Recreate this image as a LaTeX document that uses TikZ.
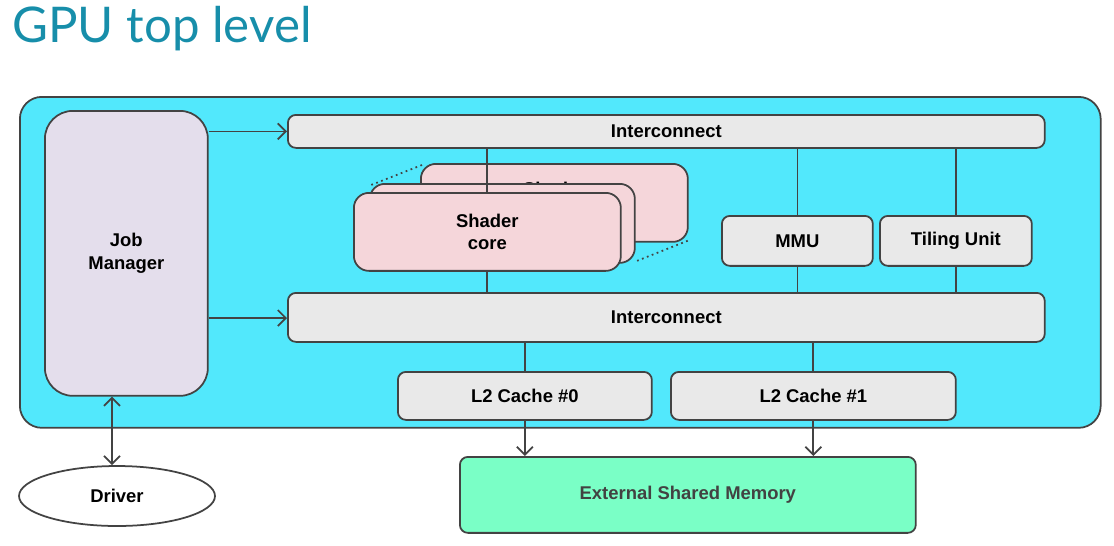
\documentclass[tikz,border=0pt]{standalone}
\usepackage{fontspec}
\setmainfont{Liberation Sans}
\newfontfamily\titlefont{Lato}
\usetikzlibrary{arrows.meta,shapes.geometric}

\definecolor{linegray}{RGB}{67,67,67}
\definecolor{gpucyan}{RGB}{82,232,252}
\definecolor{jobfill}{RGB}{228,222,236}
\definecolor{barfill}{RGB}{233,233,233}
\definecolor{shaderfill}{RGB}{245,214,218}
\definecolor{memfill}{RGB}{122,255,198}
\definecolor{titleblue}{RGB}{23,142,170}
\definecolor{memtext}{RGB}{66,66,66}

\tikzset{
  block/.style={draw=linegray, line width=1pt, rounded corners=0.16cm, align=center,
    inner sep=0pt, anchor=north west, font=\bfseries\fontsize{10.5}{13}\selectfont},
  wire/.style={draw=linegray, line width=1pt},
  arrowwire/.style={wire, -{Straight Barb[length=1.6mm,width=3.2mm]}},
}

\begin{document}
\begin{tikzpicture}[x=0.02cm, y=-0.02cm]
\useasboundingbox (0,0) rectangle (1114,545);

% Title
\node[anchor=north west, inner sep=0pt, text=titleblue, font=\titlefont\fontsize{28}{32}\selectfont] (title) at (12,6) {GPU top level};

% GPU box
\node[block, fill=gpucyan, rounded corners=0.44cm, minimum width=21.62cm, minimum height=6.62cm] (gpu) at (19,96) {};

% Job manager
\node[block, fill=jobfill, rounded corners=0.56cm, minimum width=3.26cm, minimum height=5.7cm] (jobMgr) at (44,110) {Job\\Manager};

% Interconnects
\node[block, fill=barfill, minimum width=15.14cm, minimum height=0.66cm] (icTop) at (287,114) {Interconnect};
\node[block, fill=barfill, minimum width=15.14cm, minimum height=0.98cm] (icBot) at (287,292) {Interconnect};

% Shader core stack
\node[block, fill=shaderfill, rounded corners=0.3cm, minimum width=5.34cm, minimum height=1.56cm] (shaderBack) at (420,163) {\raisebox{0.06cm}[\height][\depth]{Shader}\\core};
\node[block, fill=shaderfill, rounded corners=0.3cm, minimum width=5.3cm, minimum height=1.58cm] (shaderMid) at (369,183) {};
\draw[wire, dotted] ([shift={(0.04cm,-0.04cm)}]shaderBack.north west) -- ([shift={(0.04cm,-0.04cm)}]shaderMid.north west);
\draw[wire, dotted] ([shift={(-0.02cm,0.04cm)}]shaderBack.south east) -- ([shift={(-0.02cm,0.04cm)}]shaderMid.south east);
\draw[wire] (shaderBack.north -| 487,0) -- (icTop.south -| 487,0);
\node[block, fill=shaderfill, rounded corners=0.3cm, minimum width=5.34cm, minimum height=1.56cm] (shader) at (353,192) {Shader\\core};
\draw[wire] (shader.north) -- (shaderBack.north -| shader.north);
\draw[wire] (shader.south) -- (shader.south |- icBot.north);

% MMU and tiling unit
\node[block, fill=barfill, minimum width=3.02cm, minimum height=1.0cm] (mmu) at (721,215) {MMU};
\node[block, fill=barfill, minimum width=3.04cm, minimum height=1.0cm] (tiler) at (879,215) {Tiling Unit};
\draw[wire] (mmu.north) -- (mmu.north |- icTop.south);
\draw[wire] (mmu.south) -- (mmu.south |- icBot.north);
\draw[wire] (tiler.north) -- (tiler.north |- icTop.south);
\draw[wire] (tiler.south) -- (tiler.south |- icBot.north);

% L2 caches
\node[block, fill=barfill, minimum width=5.08cm, minimum height=0.96cm] (l2a) at (397,371) {L2 Cache \#0};
\node[block, fill=barfill, minimum width=5.7cm, minimum height=0.96cm] (l2b) at (670,371) {L2 Cache \#1};
\draw[wire] (l2a.north) -- (l2a.north |- icBot.south);
\draw[wire] (l2b.north) -- (l2b.north |- icBot.south);

% Job manager to interconnects
\draw[arrowwire] (jobMgr.east |- icTop.west) -- (icTop.west);
\draw[arrowwire] (jobMgr.east |- 0,318) -- (icBot.west |- 0,318);

% Memory
\node[block, fill=memfill, text=memtext, minimum width=9.12cm, minimum height=1.52cm] (mem) at (459,456) {External Shared Memory};
\draw[arrowwire] (l2a.south) -- (l2a.south |- mem.north);
\draw[arrowwire] (l2b.south) -- (l2b.south |- mem.north);

% Driver
\node[draw=linegray, line width=1pt, ellipse, fill=white, inner sep=0pt, minimum width=3.92cm, minimum height=1.2cm,
  font=\bfseries\fontsize{10.5}{13}\selectfont] (driver) at (117,496) {Driver};
\draw[wire, {Straight Barb[length=1.6mm,width=3.2mm]}-{Straight Barb[length=1.6mm,width=3.2mm]}]
  (jobMgr.south -| 112,0) -- (driver.north -| 112,0);
\end{tikzpicture}
\end{document}
